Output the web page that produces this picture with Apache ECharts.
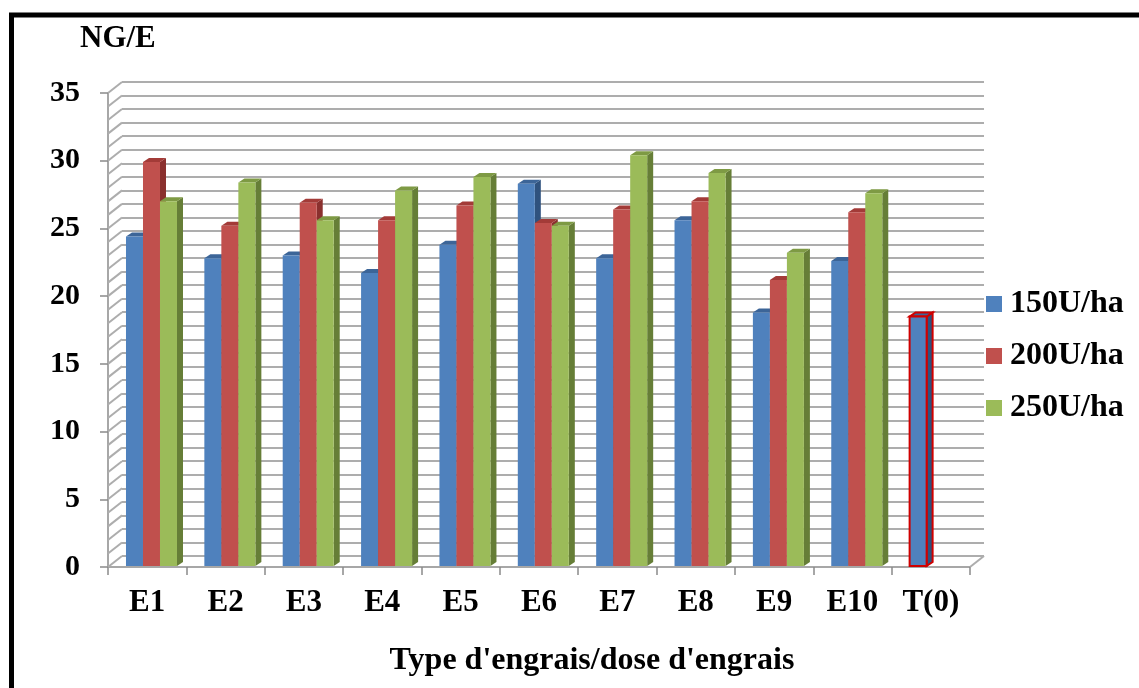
<!DOCTYPE html>
<html>
<head>
<meta charset="utf-8">
<script src="https://cdn.jsdelivr.net/npm/echarts@6/dist/echarts.min.js"></script>
<style>
  html, body { margin: 0; padding: 0; background: #fff; overflow: hidden; }
  #chart { width: 1139px; height: 688px; }
</style>
</head>
<body>
<div id="chart"></div>
<script>
// Nombre de grains par épi selon le type d'engrais et la dose
const categories = ['E1', 'E2', 'E3', 'E4', 'E5', 'E6', 'E7', 'E8', 'E9', 'E10', 'T(0)'];
const seriesNames = ['150U/ha', '200U/ha', '250U/ha'];
const dose150 = [24.4, 22.8, 23.0, 21.7, 23.8, 28.3, 22.8, 25.6, 18.8, 22.6, 18.5];
const dose200 = [29.9, 25.2, 26.9, 25.6, 26.7, 25.4, 26.4, 27.0, 21.2, 26.2, null];
const dose250 = [27.0, 28.4, 25.6, 27.8, 28.8, 25.2, 30.4, 29.1, 23.2, 27.6, null];
const controlCategory = 'T(0)';
const yMin = 0, yMax = 35, yLabelStep = 5, yGridStep = 1;
const yAxisTitle = 'NG/E';
const xAxisTitle = "Type d'engrais/dose d'engrais";

// --- pseudo-3D layout ---
const FRONT = { left: 108, right: 169, top: 93, bottom: 121 };
const DEPTH_X = 14, DEPTH_Y = 11;      // offset of the back wall
const BAR_DX = 6, BAR_DY = 4;          // bar depth (side / top faces)
const BAR_RATIO = 0.217;               // bar width as share of category band
const GROUP_SHIFT = 0.055;             // groups sit slightly right of band centre
const FONT = 'Liberation Serif, Times New Roman, serif';
const GRID_COLOR = '#adadad';
const AXIS_COLOR = '#8a8a8a';

const palettes = [
  { front: '#4F81BD', top: '#3C6598', side: '#2F527E' },
  { front: '#C0504D', top: '#A33B38', side: '#8A302E' },
  { front: '#9BBB59', top: '#7E9A44', side: '#667E37' }
];
const controlStroke = '#D00000';

const gridLevels = [];
for (let v = yMin; v <= yMax; v += yGridStep) gridLevels.push([0, v]);

function toPairs(arr) { return arr.map((v, i) => [i, v]); }

function barRenderer(slot, pal) {
  return function (params, api) {
    const v = api.value(1);
    if (v === null || v === undefined || isNaN(v)) return null;
    const idx = api.value(0);
    const top = api.coord([idx, v]);
    const base = api.coord([idx, 0]);
    const band = api.size([1, 0])[0];
    const w = band * BAR_RATIO;
    const x0 = top[0] - 1.5 * w + slot * w + band * GROUP_SHIFT;
    const x1 = x0 + w;
    const yT = top[1], yB = base[1] - 1;
    const ctrl = categories[idx] === controlCategory;
    const st = ctrl ? { stroke: controlStroke, lineWidth: 2 } : { lineWidth: 0 };
    return {
      type: 'group',
      children: [
        { type: 'polygon', shape: { points: [[x1, yB], [x1 + BAR_DX, yB - BAR_DY], [x1 + BAR_DX, yT - BAR_DY], [x1, yT]] },
          style: Object.assign({ fill: pal.side }, st) },
        { type: 'polygon', shape: { points: [[x0, yT], [x1, yT], [x1 + BAR_DX, yT - BAR_DY], [x0 + BAR_DX, yT - BAR_DY]] },
          style: Object.assign({ fill: pal.top }, st) },
        { type: 'rect', shape: { x: x0, y: yT, width: w, height: yB - yT },
          style: Object.assign({ fill: pal.front }, st) }
      ]
    };
  };
}

// side wall diagonals + right edge of the floor
function wallRenderer(params, api) {
  const cs = params.coordSys;
  const p = api.coord([0, api.value(1)]);
  const children = [{
    type: 'line',
    shape: { x1: cs.x, y1: p[1], x2: cs.x + DEPTH_X, y2: p[1] - DEPTH_Y },
    style: { stroke: GRID_COLOR, lineWidth: 2 }
  }];
  if (api.value(1) === yMin) {
    children.push({
      type: 'line',
      shape: { x1: cs.x + cs.width, y1: p[1], x2: cs.x + cs.width + DEPTH_X, y2: p[1] - DEPTH_Y },
      style: { stroke: GRID_COLOR, lineWidth: 2 }
    });
  }
  return { type: 'group', children };
}

const doseData = [dose150, dose200, dose250];

const option = {
  animation: false,
  backgroundColor: '#fff',
  textStyle: { fontFamily: FONT },
  title: {
    text: yAxisTitle, left: 80, top: 23, padding: 0,
    textStyle: { fontFamily: FONT, fontSize: 31, fontWeight: 'bold', color: '#000' }
  },
  legend: {
    orient: 'vertical', left: 986, top: 288, padding: 0,
    itemWidth: 16, itemHeight: 16, itemGap: 20, icon: 'rect',
    data: seriesNames,
    textStyle: { fontFamily: FONT, fontSize: 32, fontWeight: 'bold', color: '#000', padding: [0, 0, 0, 3] }
  },
  grid: [
    { left: FRONT.left, right: FRONT.right, top: FRONT.top, bottom: FRONT.bottom },
    { left: FRONT.left + DEPTH_X, right: FRONT.right - DEPTH_X,
      top: FRONT.top - DEPTH_Y, bottom: FRONT.bottom + DEPTH_Y }
  ],
  xAxis: [
    {
      gridIndex: 0, type: 'category', data: categories, boundaryGap: true,
      axisLine: { lineStyle: { color: AXIS_COLOR, width: 1.5 } },
      axisTick: { show: true, interval: 0, length: 8, lineStyle: { color: AXIS_COLOR, width: 1.5 } },
      axisLabel: { interval: 0, margin: 20, color: '#000', fontFamily: FONT, fontSize: 31, fontWeight: 'bold' },
      splitLine: { show: false }
    },
    { gridIndex: 1, type: 'value', min: 0, max: 1, show: false }
  ],
  yAxis: [
    {
      gridIndex: 0, type: 'value', min: yMin, max: yMax, interval: yLabelStep,
      axisLine: { show: true, lineStyle: { color: AXIS_COLOR, width: 1.5 } },
      axisTick: { show: true, length: 8, lineStyle: { color: AXIS_COLOR, width: 1.5 } },
      axisLabel: { margin: 28, color: '#000', fontFamily: FONT, fontSize: 30, fontWeight: 'bold' },
      splitLine: { show: false }
    },
    {
      gridIndex: 1, type: 'value', min: yMin, max: yMax, interval: yGridStep,
      axisLine: { show: false }, axisTick: { show: false }, axisLabel: { show: false },
      splitLine: { show: true, lineStyle: { color: GRID_COLOR, width: 2 } }
    }
  ],
  graphic: [
    {
      type: 'rect', shape: { x: 11.5, y: 15, width: 1200, height: 800 },
      style: { fill: 'none', stroke: '#000', lineWidth: 5 }, z: 100
    },
    {
      type: 'text', x: 592, y: 661,
      style: { text: xAxisTitle, fill: '#000', font: 'bold 32px ' + FONT, textAlign: 'center', textVerticalAlign: 'middle' }
    }
  ],
  series: [
    {
      type: 'custom', name: 'wall', xAxisIndex: 0, yAxisIndex: 0, z: 1, silent: true,
      renderItem: wallRenderer, data: gridLevels, clip: false
    }
  ].concat(seriesNames.map((name, i) => ({
    type: 'custom', name, xAxisIndex: 0, yAxisIndex: 0, z: 3 + i,
    itemStyle: { color: palettes[i].front },
    encode: { x: 0, y: 1 },
    renderItem: barRenderer(i, palettes[i]),
    data: toPairs(doseData[i])
  })))
};

const chart = echarts.init(document.getElementById('chart'), null, { renderer: 'canvas' });
chart.setOption(option);
</script>
</body>
</html>
